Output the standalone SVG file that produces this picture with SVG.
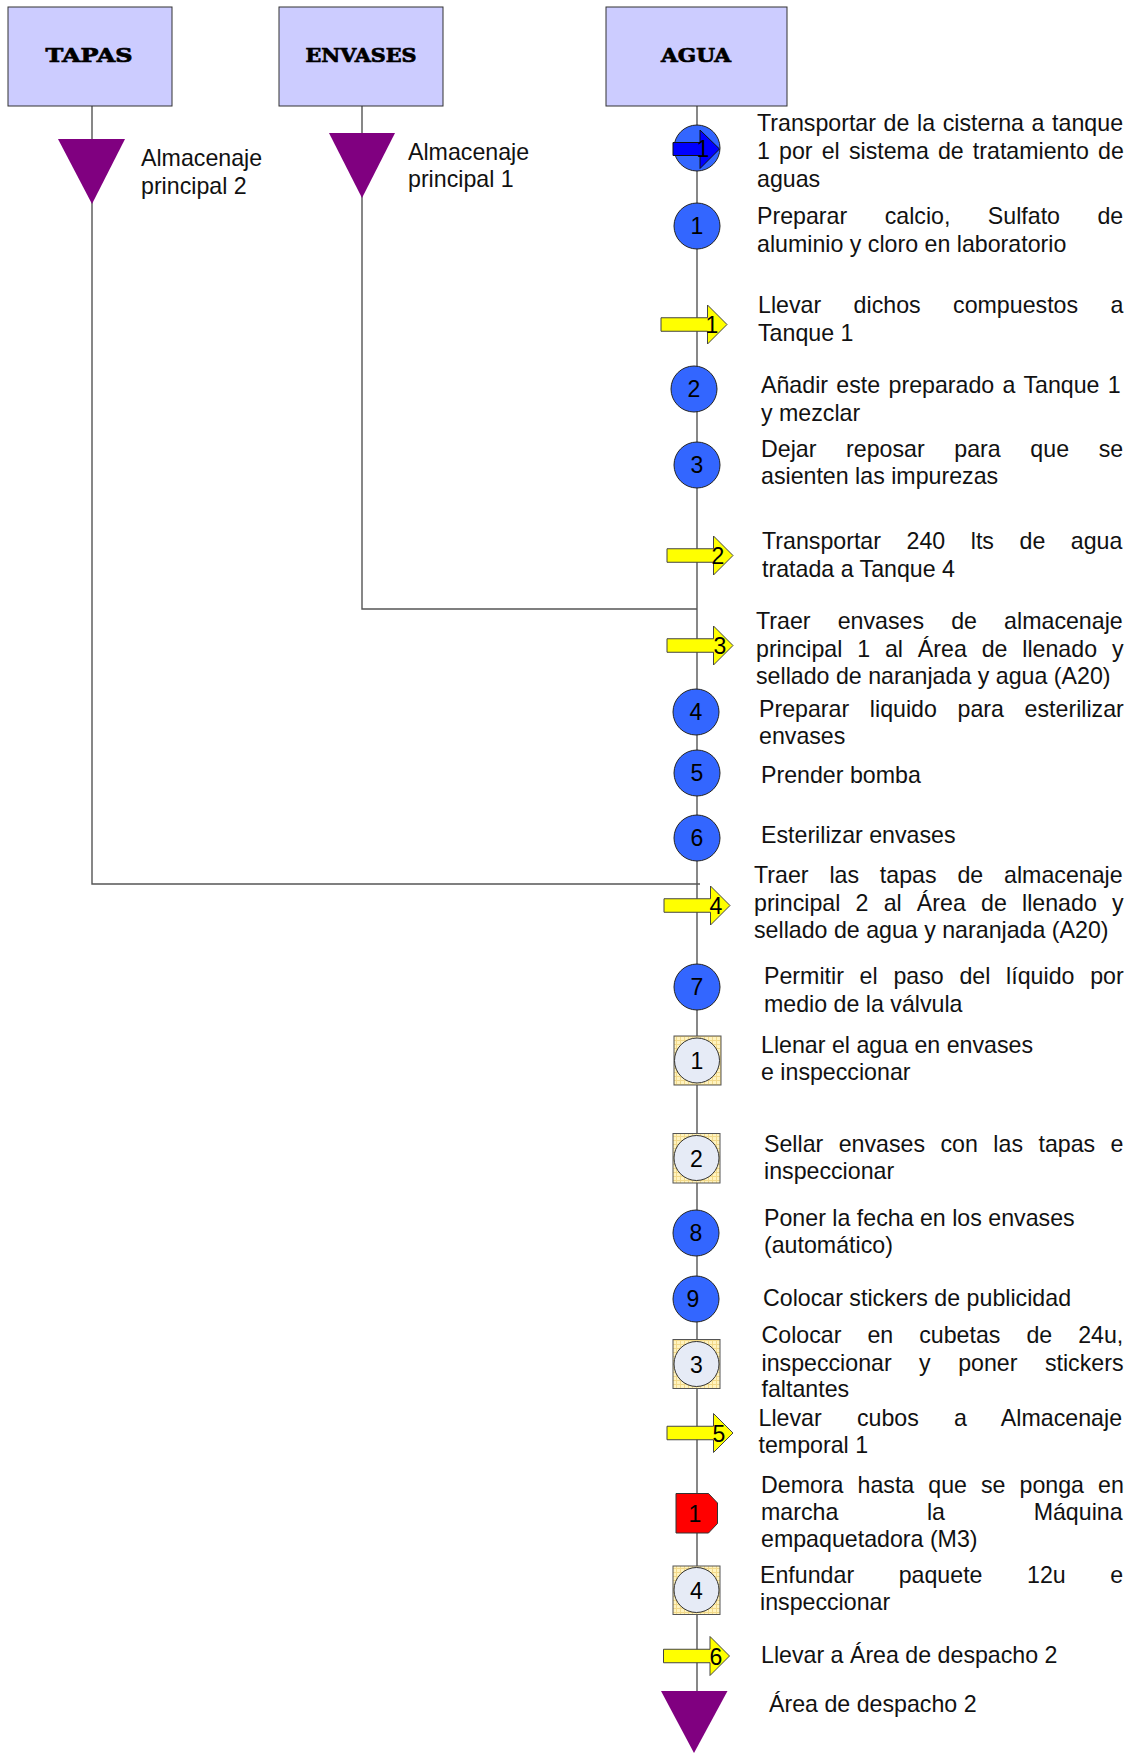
<svg xmlns="http://www.w3.org/2000/svg" xmlns:xlink="http://www.w3.org/1999/xlink" width="1132" height="1753" viewBox="0 0 1132 1753">
  <style>
    .hdr { fill: #ccccff; stroke: #333; stroke-width: 1; }
    .hdr-t { font-family: "DejaVu Serif", "Liberation Serif", serif; font-weight: bold; font-size: 19px; fill: #000; stroke: #000; stroke-width: 0.7; text-anchor: middle; }
    .lbl { font-family: "Liberation Sans", Arial, sans-serif; font-size: 23.2px; fill: #111; }
    .num { font-family: "Liberation Sans", Arial, sans-serif; font-size: 23px; fill: #000; text-anchor: middle; }
    .op { fill: #3366ff; stroke: #222; stroke-width: 1; }
    .store { fill: #800080; }
    .conn { fill: none; stroke: #555; stroke-width: 1.4; }
    .insp-sq { fill: url(#grid); stroke: #555; stroke-width: 1; }
    .insp-c { fill: #e6ebf6; stroke: #333; stroke-width: 1; }
    .delay { fill: #ff0000; stroke: #333; stroke-width: 1; }
  </style>
  <defs>
    <pattern id="grid" width="4" height="4" patternUnits="userSpaceOnUse">
      <rect width="4" height="4" fill="#fff3bf"/>
      <path d="M0 0.5H4M0.5 0V4" stroke="#f2d98a" stroke-width="1"/>
    </pattern>
    <!-- transport arrow, origin at left end of the shaft, vertical centre -->
    <path id="yarrow" d="M0 -6.75H46.5V-19.5L66 0L46.5 19.5V6.75H0Z" fill="#ffff00" stroke="#444" stroke-width="1"/>
  </defs>

  <rect width="1132" height="1753" fill="#fff"/>

  <!-- connectors -->
  <g id="connectors">
    <polyline class="conn" points="92,106 92,884 700,884"/>
    <polyline class="conn" points="362,106 362,609 697,609"/>
    <line class="conn" x1="697" y1="106" x2="697" y2="1692"/>
  </g>

  <!-- column headers -->
  <g id="tapas">
    <rect class="hdr" x="8" y="7" width="164" height="99"/>
    <text class="hdr-t" x="89" y="62" textLength="87" lengthAdjust="spacingAndGlyphs">TAPAS</text>
  </g>
  <g id="envases">
    <rect class="hdr" x="279" y="7" width="164" height="99"/>
    <text class="hdr-t" x="361" y="62" textLength="111" lengthAdjust="spacingAndGlyphs">ENVASES</text>
  </g>
  <g id="agua">
    <rect class="hdr" x="606" y="7" width="181" height="99"/>
    <text class="hdr-t" x="696" y="62" textLength="70" lengthAdjust="spacingAndGlyphs">AGUA</text>
  </g>

  <!-- main storages -->
  <g id="almacenaje-2">
    <polygon class="store" points="58,139 125,139 92,204"/>
    <text class="lbl" x="141" y="166">Almacenaje</text>
    <text class="lbl" x="141" y="194">principal 2</text>
  </g>
  <g id="almacenaje-1">
    <polygon class="store" points="329,133 395,133 362,198"/>
    <text class="lbl" x="408" y="160">Almacenaje</text>
    <text class="lbl" x="408" y="187">principal 1</text>
  </g>

  <!-- water line steps -->
  <g id="combined-1">
    <circle class="op" cx="697" cy="148" r="23"/>
    <path d="M673 142.5H700V130L719.5 149L700 168.5V155.5H673Z" fill="#0000ff" stroke="#111" stroke-width="1"/>
    <text class="num" x="703" y="157">1</text>
    <text class="lbl" x="757" y="131" style="word-spacing:1.2px">Transportar de la cisterna a tanque</text>
    <text class="lbl" x="757" y="159" style="word-spacing:2.7px">1 por el sistema de tratamiento de</text>
    <text class="lbl" x="757" y="187">aguas</text>
  </g>

  <g id="op-1">
    <circle class="op" cx="697" cy="226" r="23"/>
    <text class="num" x="697" y="234">1</text>
    <text class="lbl" x="757" y="224" style="word-spacing:31px">Preparar calcio, Sulfato de</text>
    <text class="lbl" x="757" y="251.5">aluminio y cloro en laboratorio</text>
  </g>

  <g id="transport-1">
    <use xlink:href="#yarrow" x="661" y="324.5"/>
    <text class="num" x="712" y="333">1</text>
    <text class="lbl" x="758" y="313.3" style="word-spacing:26px">Llevar dichos compuestos a</text>
    <text class="lbl" x="758" y="341">Tanque 1</text>
  </g>

  <g id="op-2">
    <circle class="op" cx="694" cy="389" r="23"/>
    <text class="num" x="694" y="397">2</text>
    <text class="lbl" x="761" y="393.3" style="word-spacing:1.9px">Añadir este preparado a Tanque 1</text>
    <text class="lbl" x="761" y="421">y mezclar</text>
  </g>

  <g id="op-3">
    <circle class="op" cx="697" cy="465" r="23"/>
    <text class="num" x="697" y="473">3</text>
    <text class="lbl" x="761" y="456.5" style="word-spacing:23.2px">Dejar reposar para que se</text>
    <text class="lbl" x="761" y="484">asienten las impurezas</text>
  </g>

  <g id="transport-2">
    <use xlink:href="#yarrow" x="667" y="555.5"/>
    <text class="num" x="718" y="564">2</text>
    <text class="lbl" x="762" y="549.3" style="word-spacing:19.1px">Transportar 240 lts de agua</text>
    <text class="lbl" x="762" y="576.7">tratada a Tanque 4</text>
  </g>

  <g id="transport-3">
    <use xlink:href="#yarrow" x="667" y="645.5"/>
    <text class="num" x="720" y="654">3</text>
    <text class="lbl" x="756" y="629.3" style="word-spacing:20.7px">Traer envases de almacenaje</text>
    <text class="lbl" x="756" y="656.7" style="word-spacing:8.4px">principal 1 al Área de llenado y</text>
    <text class="lbl" x="756" y="684">sellado de naranjada y agua (A20)</text>
  </g>

  <g id="op-4">
    <circle class="op" cx="696" cy="712" r="23"/>
    <text class="num" x="696" y="720">4</text>
    <text class="lbl" x="759" y="716.7" style="word-spacing:14.2px">Preparar liquido para esterilizar</text>
    <text class="lbl" x="759" y="743.5">envases</text>
  </g>

  <g id="op-5">
    <circle class="op" cx="697" cy="773" r="23"/>
    <text class="num" x="697" y="781">5</text>
    <text class="lbl" x="761" y="782.7">Prender bomba</text>
  </g>

  <g id="op-6">
    <circle class="op" cx="697" cy="838" r="23"/>
    <text class="num" x="697" y="846">6</text>
    <text class="lbl" x="761" y="843.3">Esterilizar envases</text>
  </g>

  <g id="transport-4">
    <use xlink:href="#yarrow" x="664" y="905.5"/>
    <text class="num" x="716" y="914">4</text>
    <text class="lbl" x="754" y="883.3" style="word-spacing:14.4px">Traer las tapas de almacenaje</text>
    <text class="lbl" x="754" y="911" style="word-spacing:8.75px">principal 2 al Área de llenado y</text>
    <text class="lbl" x="754" y="938.3">sellado de agua y naranjada (A20)</text>
  </g>

  <g id="op-7">
    <circle class="op" cx="697" cy="987" r="23"/>
    <text class="num" x="697" y="995">7</text>
    <text class="lbl" x="764" y="984.3" style="word-spacing:9.3px">Permitir el paso del líquido por</text>
    <text class="lbl" x="764" y="1011.7">medio de la válvula</text>
  </g>

  <g id="insp-1">
    <rect class="insp-sq" x="674" y="1036" width="47" height="49"/>
    <circle class="insp-c" cx="697" cy="1060.5" r="22.5"/>
    <text class="num" x="697" y="1069">1</text>
    <text class="lbl" x="761" y="1052.7">Llenar el agua en envases</text>
    <text class="lbl" x="761" y="1080">e inspeccionar</text>
  </g>

  <g id="insp-2">
    <rect class="insp-sq" x="673" y="1133.5" width="47" height="49.5"/>
    <circle class="insp-c" cx="696.5" cy="1158" r="22.5"/>
    <text class="num" x="696.5" y="1166.5">2</text>
    <text class="lbl" x="764" y="1151.7" style="word-spacing:9px">Sellar envases con las tapas e</text>
    <text class="lbl" x="764" y="1178.7">inspeccionar</text>
  </g>

  <g id="op-8">
    <circle class="op" cx="696" cy="1233" r="23"/>
    <text class="num" x="696" y="1241">8</text>
    <text class="lbl" x="764" y="1226">Poner la fecha en los envases</text>
    <text class="lbl" x="764" y="1253.3">(automático)</text>
  </g>

  <g id="op-9">
    <circle class="op" cx="696" cy="1299" r="23"/>
    <text class="num" x="693" y="1307">9</text>
    <text class="lbl" x="763" y="1305.7">Colocar stickers de publicidad</text>
  </g>

  <g id="insp-3">
    <rect class="insp-sq" x="673" y="1339.5" width="47" height="49"/>
    <circle class="insp-c" cx="696.5" cy="1364" r="22.5"/>
    <text class="num" x="696.5" y="1372.5">3</text>
    <text class="lbl" x="761.5" y="1342.7" style="word-spacing:19.55px">Colocar en cubetas de 24u,</text>
    <text class="lbl" x="761.5" y="1370.7" style="word-spacing:21px">inspeccionar y poner stickers</text>
    <text class="lbl" x="761.5" y="1397.3">faltantes</text>
  </g>

  <g id="transport-5">
    <use xlink:href="#yarrow" x="667" y="1433"/>
    <text class="num" x="719" y="1441.5">5</text>
    <text class="lbl" x="758.5" y="1426" style="word-spacing:28.8px">Llevar cubos a Almacenaje</text>
    <text class="lbl" x="758.5" y="1453.3">temporal 1</text>
  </g>

  <g id="delay-1">
    <path class="delay" d="M676 1493.5H708.5L717.5 1503V1523.5L708.5 1533H676Z"/>
    <text class="num" x="695" y="1521.5">1</text>
    <text class="lbl" x="761" y="1492.7" style="word-spacing:7.6px">Demora hasta que se ponga en</text>
    <text class="lbl" x="761" y="1520" style="word-spacing:82.2px">marcha la Máquina</text>
    <text class="lbl" x="761" y="1547.3">empaquetadora (M3)</text>
  </g>

  <g id="insp-4">
    <rect class="insp-sq" x="673" y="1566" width="47" height="48.5"/>
    <circle class="insp-c" cx="696.5" cy="1590" r="22.5"/>
    <text class="num" x="696.5" y="1598.5">4</text>
    <text class="lbl" x="760" y="1582.7" style="word-spacing:38.1px">Enfundar paquete 12u e</text>
    <text class="lbl" x="760" y="1610">inspeccionar</text>
  </g>

  <g id="transport-6">
    <use xlink:href="#yarrow" x="663.5" y="1656"/>
    <text class="num" x="716" y="1664.5">6</text>
    <text class="lbl" x="761" y="1663.3">Llevar a Área de despacho 2</text>
  </g>

  <g id="despacho-2">
    <polygon class="store" points="661,1691 727.5,1691 694,1753"/>
    <text class="lbl" x="769" y="1711.7">Área de despacho 2</text>
  </g>
</svg>
